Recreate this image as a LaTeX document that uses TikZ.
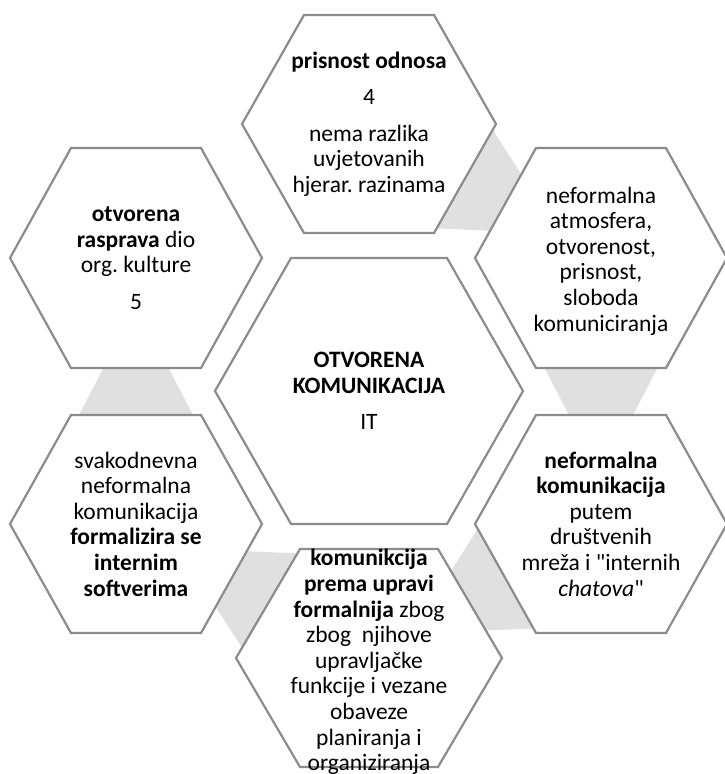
\documentclass[tikz,border=0pt]{standalone}
\usepackage{fontspec}
\setmainfont[Ligatures=TeXOff]{Carlito}
\usetikzlibrary{calc}
\definecolor{HexLine}{HTML}{8C8C8C}
\definecolor{LinkFill}{HTML}{E0E0E0}
\frenchspacing

\newcommand{\graylink}[2]{%
  \coordinate (m) at ($(#1)!0.5!(#2)$);
  \coordinate (s) at ($(m)!26pt!(#1)$);
  \coordinate (t) at ($(m)!26pt!(#2)$);
  \fill[LinkFill] ($(s)!58pt!90:(m)$) -- ($(t)!31pt!-90:(m)$) -- ($(t)!31pt!90:(m)$) -- ($(s)!58pt!-90:(m)$) -- cycle;
}

\begin{document}
\begin{tikzpicture}[x=1pt,y=-1pt,
    hexa/.style={draw=HexLine,line width=2.2pt,fill=white,line join=miter},
    every node/.style={align=center,inner sep=0pt,font=\fontsize{23.5}{25.6}\selectfont}]
    \useasboundingbox[fill=white] (0,0) rectangle (725,774);

    \coordinate (top) at (369,124);
    \coordinate (righttop) at (601,258);
    \coordinate (rightbottom) at (601,524);
    \coordinate (bottom) at (369,658);
    \coordinate (leftbottom) at (136,524);
    \coordinate (lefttop) at (136,258);
    \coordinate (centre) at (369,391);

    \graylink{top}{righttop}
    \graylink{righttop}{rightbottom}
    \graylink{rightbottom}{bottom}
    \graylink{bottom}{leftbottom}
    \graylink{leftbottom}{lefttop}

    \foreach \n/\w/\a/\h in {top/127/65/109,righttop/126/65/110,rightbottom/126/65/109,
        bottom/133/69/109,leftbottom/126/65/109,lefttop/126/65/110,centre/154/78/133} {
      \draw[hexa] ($(\n)+(-\w,0)$) -- ($(\n)+(-\a,-\h)$) -- ($(\n)+(\a,-\h)$)
        -- ($(\n)+(\w,0)$) -- ($(\n)+(\a,\h)$) -- ($(\n)+(-\a,\h)$) -- cycle;
    }

    \node (top-txt) at (top) {\textbf{prisnost odnosa}\\[11pt]4\\[11pt]nema razlika\\uvjetovanih\\hjerar. razinama};
    \node (lefttop-txt) at (lefttop) {\textbf{otvorena}\\\textbf{rasprava} dio\\org. kulture\\[11pt]5};
    \node (righttop-txt) at ($(righttop)+(0,3)$) {neformalna\\atmosfera,\\otvorenost,\\prisnost,\\sloboda\\komuniciranja};
    \node (centre-txt) at (centre) {\textbf{OTVORENA}\\\textbf{KOMUNIKACIJA}\\[11pt]IT};
    \node (leftbottom-txt) at (leftbottom) {svakodnevna\\neformalna\\komunikacija\\\textbf{formalizira se}\\\textbf{internim}\\\textbf{softverima}};
    \node (rightbottom-txt) at (rightbottom) {\textbf{neformalna}\\\textbf{komunikacija}\\putem\\društvenih\\mreža i "internih\\\textit{chatova}"};
    \node (bottom-txt) at ($(bottom)+(0,4)$) {\textbf{komunikcija}\\\textbf{prema upravi}\\\textbf{formalnija} zbog\\zbog\ \ njihove\\upravljačke\\funkcije i vezane\\obaveze\\planiranja i\\organiziranja};
\end{tikzpicture}
\end{document}
